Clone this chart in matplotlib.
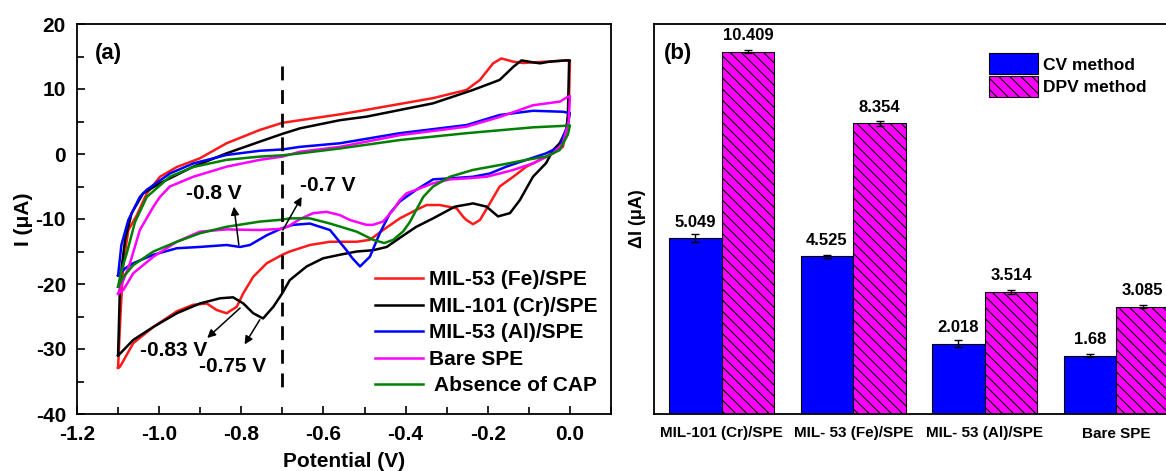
import matplotlib
matplotlib.use("Agg")
import matplotlib.pyplot as plt
from matplotlib.ticker import MultipleLocator
import numpy as np

plt.rcParams["font.family"] = ["Liberation Sans", "DejaVu Sans"]
plt.rcParams["font.weight"] = "bold"
plt.rcParams["axes.labelweight"] = "bold"
plt.rcParams["axes.unicode_minus"] = False
plt.rcParams["hatch.color"] = "black"
plt.rcParams["hatch.linewidth"] = 0.8

# ---------------- Panel (a): cyclic voltammograms ----------------
# Each trace: anodic sweep (-1.1 V -> 0 V) followed by cathodic sweep (0 V -> -1.1 V)
fe_fwd_v = [-1.100, -1.094, -1.087, -1.075, -1.055, -1.030, -0.998, -0.957, -0.901, -0.836,
            -0.755, -0.700, -0.657, -0.560, -0.495, -0.333, -0.252, -0.219, -0.187, -0.167,
            -0.138, -0.114, -0.060, -0.009, 0.000]
fe_fwd_i = [-32.9, -24.5, -16.8, -11.7, -9.5, -6.05, -3.5, -2.0, -0.67, 1.65,
            3.7, 4.8, 5.2, 6.1, 6.8, 8.6, 9.85, 11.4, 13.95, 14.7,
            14.2, 14.0, 14.2, 14.4, 14.3]
fe_rev_v = [0.000, -0.003, -0.017, -0.041, -0.073, -0.106, -0.138, -0.171, -0.195, -0.219,
            -0.236, -0.252, -0.260, -0.276, -0.317, -0.349, -0.374, -0.414, -0.455, -0.487,
            -0.519, -0.584, -0.633, -0.682, -0.700, -0.738, -0.771, -0.795, -0.811, -0.836,
            -0.860, -0.884, -0.917, -0.957, -1.014, -1.063, -1.095, -1.100]
fe_rev_i = [14.3, 6.0, 1.1, 0.1, -0.9, -1.95, -3.5, -5.0, -7.6, -10.15,
            -10.8, -10.15, -9.65, -8.35, -7.85, -7.85, -8.6, -9.9, -11.7, -13.2,
            -13.5, -13.5, -14.0, -15.0, -15.5, -16.8, -18.9, -21.4, -23.5, -24.5,
            -24.0, -23.0, -23.2, -24.2, -26.6, -29.1, -32.7, -32.9]

cr_fwd_v = [-1.100, -1.095, -1.083, -1.067, -1.039, -0.998, -0.917, -0.836, -0.755, -0.700,
            -0.657, -0.560, -0.495, -0.333, -0.236, -0.171, -0.138, -0.118, -0.090, -0.073,
            -0.050, -0.009, 0.000]
cr_fwd_i = [-31.0, -19.4, -13.2, -9.1, -6.05, -4.5, -1.95, 0.1, 1.9, 3.1,
            3.95, 5.2, 5.75, 7.8, 9.85, 11.4, 13.4, 14.4, 14.1, 13.95,
            14.2, 14.4, 14.4]
cr_rev_v = [0.000, -0.002, -0.005, -0.009, -0.025, -0.041, -0.058, -0.090, -0.122, -0.146,
            -0.175, -0.203, -0.236, -0.244, -0.280, -0.333, -0.374, -0.414, -0.446, -0.479,
            -0.519, -0.560, -0.601, -0.641, -0.682, -0.700, -0.722, -0.747, -0.771, -0.795,
            -0.820, -0.852, -0.901, -0.957, -1.014, -1.063, -1.095, -1.100]
cr_rev_i = [14.4, 14.2, 6.0, 3.7, 1.65, 0.6, -1.4, -3.5, -7.1, -9.1,
            -9.6, -8.1, -7.6, -7.7, -8.1, -9.9, -11.2, -12.9, -14.3, -14.8,
            -15.0, -15.5, -16.05, -17.3, -19.4, -21.4, -23.5, -25.3, -24.5, -23.0,
            -22.05, -22.2, -23.0, -24.5, -26.6, -28.6, -30.7, -31.0]

al_fwd_v = [-1.100, -1.092, -1.075, -1.047, -1.030, -0.974, -0.917, -0.836, -0.755, -0.700,
            -0.657, -0.560, -0.414, -0.252, -0.171, -0.090, -0.017, 0.000]
al_fwd_i = [-18.7, -14.0, -10.15, -6.6, -5.5, -3.0, -1.45, -0.15, 0.5, 0.7,
            1.1, 1.65, 3.2, 4.45, 6.0, 6.65, 6.5, 6.3]
al_rev_v = [0.000, -0.005, -0.013, -0.025, -0.058, -0.106, -0.155, -0.195, -0.236, -0.292,
            -0.333, -0.374, -0.414, -0.438, -0.463, -0.487, -0.511, -0.530, -0.544, -0.584,
            -0.633, -0.674, -0.700, -0.738, -0.779, -0.803, -0.836, -0.901, -0.957, -1.014,
            -1.063, -1.083, -1.100]
al_rev_i = [6.3, 4.5, 3.2, 1.1, 0.1, -0.9, -1.95, -3.0, -3.5, -3.75,
            -3.9, -5.5, -7.3, -9.1, -12.2, -15.8, -17.3, -16.0, -14.8, -11.7,
            -10.7, -10.9, -11.4, -12.5, -14.0, -14.3, -14.0, -14.3, -14.5, -15.5,
            -16.8, -17.6, -18.7]

bare_fwd_v = [-1.100, -1.071, -1.047, -1.014, -0.998, -0.974, -0.917, -0.836, -0.755, -0.700,
              -0.657, -0.560, -0.414, -0.252, -0.171, -0.090, -0.025, -0.005, 0.000]
bare_fwd_i = [-21.5, -16.8, -11.7, -8.1, -6.6, -5.0, -3.5, -1.95, -0.9, -0.4,
              0.35, 1.1, 2.9, 4.2, 5.7, 7.5, 8.05, 8.8, 8.9]
bare_rev_v = [0.000, -0.003, -0.017, -0.041, -0.090, -0.138, -0.171, -0.203, -0.252, -0.292,
              -0.333, -0.374, -0.398, -0.414, -0.430, -0.455, -0.480, -0.495, -0.536, -0.560,
              -0.592, -0.625, -0.657, -0.682, -0.700, -0.755, -0.836, -0.901, -0.957, -1.014,
              -1.063, -1.087, -1.100]
bare_rev_i = [8.9, 5.0, 1.65, 0.1, -1.45, -2.45, -3.0, -3.5, -3.75, -3.9,
              -4.5, -5.5, -6.05, -7.1, -8.6, -10.4, -10.9, -10.9, -10.15, -9.4,
              -8.9, -9.1, -10.0, -11.0, -11.5, -11.7, -11.6, -11.95, -13.5, -15.8,
              -18.35, -20.9, -21.5]

blank_fwd_v = [-1.100, -1.092, -1.079, -1.059, -1.030, -0.974, -0.917, -0.836, -0.755, -0.700,
               -0.657, -0.560, -0.414, -0.252, -0.090, -0.009, 0.000]
blank_fwd_i = [-20.4, -18.0, -15.3, -10.5, -6.6, -3.5, -2.0, -0.9, -0.4, -0.2,
               0.1, 0.85, 2.15, 3.2, 4.1, 4.35, 4.4]
blank_rev_v = [0.000, -0.005, -0.025, -0.058, -0.106, -0.171, -0.236, -0.292, -0.333, -0.357,
               -0.374, -0.390, -0.406, -0.430, -0.452, -0.479, -0.519, -0.584, -0.633, -0.682,
               -0.700, -0.755, -0.836, -0.901, -0.957, -1.014, -1.063, -1.087, -1.100]
blank_rev_i = [4.4, 3.0, 0.6, -0.4, -0.9, -1.7, -2.45, -3.5, -5.0, -6.6,
               -8.6, -10.5, -11.9, -13.2, -13.7, -13.2, -11.95, -10.7, -9.9, -9.9,
               -10.1, -10.4, -11.2, -12.2, -13.5, -15.0, -17.1, -18.9, -20.4]

cv_labels = ["MIL-53 (Fe)/SPE", "MIL-101 (Cr)/SPE", "MIL-53 (Al)/SPE", "Bare SPE", " Absence of CAP"]
cv_colors = ["#ff1a1a", "#000000", "#0000ff", "#ff00ff", "#008000"]
cv_traces = [
    (fe_fwd_v, fe_fwd_i, fe_rev_v, fe_rev_i),
    (cr_fwd_v, cr_fwd_i, cr_rev_v, cr_rev_i),
    (al_fwd_v, al_fwd_i, al_rev_v, al_rev_i),
    (bare_fwd_v, bare_fwd_i, bare_rev_v, bare_rev_i),
    (blank_fwd_v, blank_fwd_i, blank_rev_v, blank_rev_i),
]
potential_ticks = [-1.2, -1.0, -0.8, -0.6, -0.4, -0.2, 0.0]

# ---------------- Panel (b): peak current comparison ----------------
electrodes = ["MIL-101 (Cr)/SPE", "MIL- 53 (Fe)/SPE", "MIL- 53 (Al)/SPE", "Bare SPE"]
cv_delta = [5.049, 4.525, 2.018, 1.68]
dpv_delta = [10.409, 8.354, 3.514, 3.085]
cv_err = [0.12, 0.05, 0.10, 0.03]
dpv_err = [0.03, 0.07, 0.06, 0.05]
cv_text = ["5.049", "4.525", "2.018", "1.68"]
dpv_text = ["10.409", "8.354", "3.514", "3.085"]

W, H = 1166, 471
fig = plt.figure(figsize=(W / 100, H / 100), dpi=100)
ax1 = fig.add_axes([77 / W, 57 / H, 534 / W, 390 / H])
ax2 = fig.add_axes([654 / W, 57 / H, 528 / W, 390 / H])

for (fv, fi, rv, ri), lab, col in zip(cv_traces, cv_labels, cv_colors):
    v = list(fv) + list(rv)
    i = list(fi) + list(ri)
    ax1.plot(v, i, color=col, lw=1.8, label=lab, solid_joinstyle="round")

ax1.plot([-0.7, -0.7], [13.5, -36.5], color="black", lw=2.0, linestyle=(0, (5, 3.5)))

ax1.set_xlim(-1.2, 0.1)
ax1.set_ylim(-40, 20)
ax1.set_xticks(potential_ticks)
ax1.set_xticklabels([f"{t:.1f}" for t in potential_ticks])
ax1.xaxis.set_minor_locator(MultipleLocator(0.1))
ax1.yaxis.set_major_locator(MultipleLocator(10))
ax1.yaxis.set_minor_locator(MultipleLocator(5))
ax1.tick_params(axis="both", which="both", direction="in", top=False, right=False,
                labelsize=15, width=1.2)
ax1.tick_params(axis="both", which="major", length=6)
ax1.tick_params(axis="both", which="minor", length=5)
ax1.tick_params(axis="x", which="major", pad=8)
ax1.tick_params(axis="y", which="major", pad=8)
for lbl in ax1.get_xticklabels() + ax1.get_yticklabels():
    lbl.set_fontweight("bold")
for s in ax1.spines.values():
    s.set_linewidth(1.3)
ax1.set_xlabel("Potential (V)", fontsize=15, labelpad=6)
ax1.set_ylabel("I (\u03bcA)", fontsize=15, labelpad=2)
ax1.text(0.034, 0.925, "(a)", transform=ax1.transAxes, fontsize=16, fontweight="bold",
         va="center", ha="left")

ax1.legend(loc="upper left", bbox_to_anchor=(0.558, 0.368), frameon=False,
           prop={"size": 15, "weight": "bold"}, handlelength=2.3, handletextpad=0.3,
           labelspacing=0.36, borderpad=0, borderaxespad=0)

arrow_kw = dict(arrowstyle="-|>", color="black", lw=1.1, mutation_scale=12,
                shrinkA=0, shrinkB=0)
ax1.annotate("", xy=(-0.818, -8.1), xytext=(-0.806, -14.0), arrowprops=arrow_kw)
ax1.annotate("", xy=(-0.653, -6.6), xytext=(-0.699, -11.7), arrowprops=arrow_kw)
ax1.annotate("", xy=(-0.883, -28.3), xytext=(-0.803, -23.7), arrowprops=arrow_kw)
ax1.annotate("", xy=(-0.792, -29.3), xytext=(-0.755, -25.5), arrowprops=arrow_kw)
ax1.text(-0.867, -6.1, "-0.8 V", fontsize=15, fontweight="bold", ha="center", va="center")
ax1.text(-0.590, -4.8, "-0.7 V", fontsize=15, fontweight="bold", ha="center", va="center")
ax1.text(-0.965, -30.2, "-0.83 V", fontsize=15, fontweight="bold", ha="center", va="center")
ax1.text(-0.822, -32.7, "-0.75 V", fontsize=15, fontweight="bold", ha="center", va="center")

# ---- bars ----
x = np.arange(len(electrodes))
bw = 0.4
ax2.bar(x - bw / 2, cv_delta, bw, color="#0000ff", edgecolor="black", lw=0.8,
        label="CV method", yerr=cv_err, capsize=3,
        error_kw=dict(ecolor="black", elinewidth=1, capthick=1))
ax2.bar(x + bw / 2, dpv_delta, bw, color="#ff00ff", edgecolor="black", lw=0.8,
        hatch="\\\\\\", label="DPV method", yerr=dpv_err, capsize=3,
        error_kw=dict(ecolor="black", elinewidth=1, capthick=1))
for xi, v, t in zip(x - bw / 2, cv_delta, cv_text):
    ax2.annotate(t, (xi, v), xytext=(0, 6), textcoords="offset points", ha="center",
                 va="bottom", fontsize=12, fontweight="bold")
for xi, v, t in zip(x + bw / 2, dpv_delta, dpv_text):
    ax2.annotate(t, (xi, v), xytext=(0, 6), textcoords="offset points", ha="center",
                 va="bottom", fontsize=12, fontweight="bold")

ax2.set_xlim(-0.515, 3.5)
ax2.set_ylim(0, 11.2)
ax2.set_xticks(x)
ax2.set_xticklabels(electrodes, fontsize=11, fontweight="bold")
ax2.set_yticks([])
ax2.tick_params(axis="x", length=0, pad=9)
for s in ax2.spines.values():
    s.set_linewidth(1.3)
ax2.set_ylabel("\u0394I (\u03bcA)", fontsize=13, labelpad=6)
ax2.text(0.018, 0.925, "(b)", transform=ax2.transAxes, fontsize=16, fontweight="bold",
         va="center", ha="left")
ax2.legend(loc="upper left", bbox_to_anchor=(0.635, 0.925), frameon=False,
           prop={"size": 12.5, "weight": "bold"}, handlelength=2.8, handleheight=1.5,
           handletextpad=0.3, labelspacing=0.1, borderpad=0, borderaxespad=0)

fig.savefig("out.png", dpi=100)
